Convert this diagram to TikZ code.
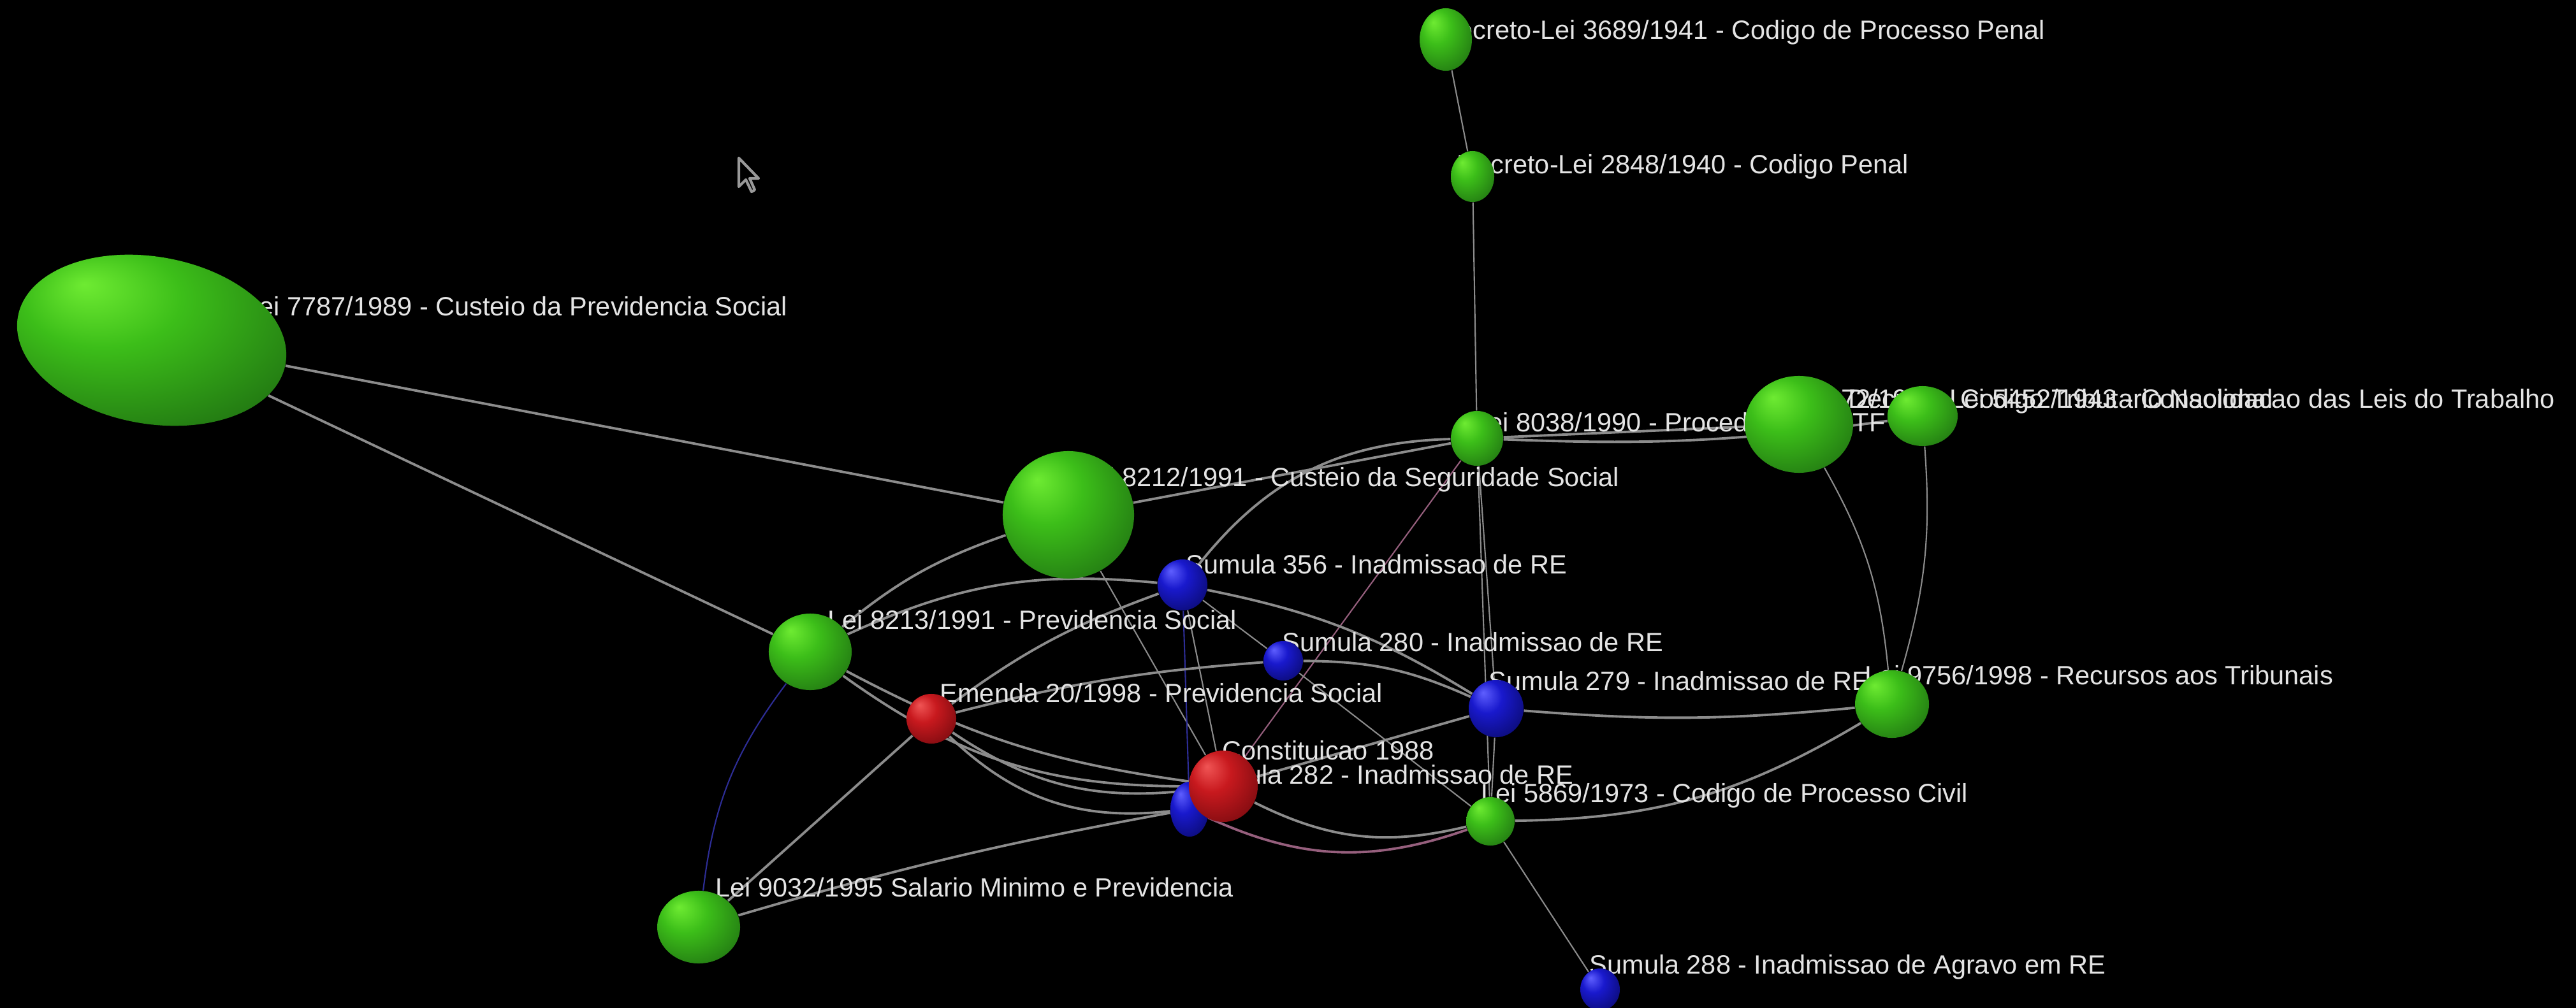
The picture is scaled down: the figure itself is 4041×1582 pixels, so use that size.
\documentclass[tikz,border=0pt]{standalone}
\usepackage{fontspec}
\setmainfont{Liberation Sans}
\usetikzlibrary{shapes.geometric}
\pgfdeclarelayer{edges}
\pgfdeclarelayer{balls}
\pgfsetlayers{edges,main,balls}
\definecolor{gtop}{RGB}{110,235,50}
\definecolor{gmid}{RGB}{60,190,25}
\definecolor{gdark}{RGB}{32,115,18}
\definecolor{btop}{RGB}{95,95,255}
\definecolor{bmid}{RGB}{25,25,205}
\definecolor{bdark}{RGB}{10,10,110}
\definecolor{rtop}{RGB}{240,85,85}
\definecolor{rmid}{RGB}{200,25,30}
\definecolor{rdark}{RGB}{120,10,15}
\definecolor{edgegray}{RGB}{140,140,140}
\definecolor{edgeblue}{RGB}{45,45,150}
\definecolor{edgepink}{RGB}{150,95,125}
\definecolor{lblwhite}{RGB}{228,228,228}
\pgfdeclareradialshading{greenball}{\pgfpoint{-12bp}{14bp}}{color(0bp)=(gtop); color(14bp)=(gmid); color(36bp)=(gdark); color(50bp)=(gdark)}
\pgfdeclareradialshading{blueball}{\pgfpoint{-12bp}{14bp}}{color(0bp)=(btop); color(14bp)=(bmid); color(36bp)=(bdark); color(50bp)=(bdark)}
\pgfdeclareradialshading{redball}{\pgfpoint{-12bp}{14bp}}{color(0bp)=(rtop); color(14bp)=(rmid); color(36bp)=(rdark); color(50bp)=(rdark)}
\newcommand\lblfont{\fontsize{11.8}{14}\selectfont}
\begin{document}
\begin{tikzpicture}[x=0.01cm,y=-0.01cm,
 gsph/.style 2 args={ellipse,inner sep=0pt,shading=greenball,minimum width=#1cm,minimum height=#2cm},
 bsph/.style 2 args={ellipse,inner sep=0pt,shading=blueball,minimum width=#1cm,minimum height=#2cm},
 rsph/.style 2 args={ellipse,inner sep=0pt,shading=redball,minimum width=#1cm,minimum height=#2cm},
 lbl/.style={anchor=base west,inner sep=0pt,text=lblwhite,font=\lblfont},
 edge/.style={draw=edgegray,line width=1.1pt},
 thinedge/.style={draw=edgegray,line width=0.6pt}]
\useasboundingbox (0,0) rectangle (4041,1582);

\begin{pgfonlayer}{balls}
\node[gsph={0.82}{0.98}] (dl3689) at (2268,62) {};
\node[gsph={0.68}{0.80}] (dl2848) at (2310,277) {};
\node[gsph={4.26}{2.62},rotate=-10] (l7787) at (238,534) {};
\node[gsph={2.06}{2.00}] (l8212) at (1676,808) {};
\node[gsph={0.82}{0.86}] (l8038) at (2317,688) {};
\node[gsph={1.70}{1.52}] (l5172) at (2822,666) {};
\node[gsph={1.10}{0.94}] (dl5452) at (3016,653) {};
\node[bsph={0.78}{0.80}] (s356) at (1855,918) {};
\node[gsph={1.30}{1.20}] (l8213) at (1271,1023) {};
\node[bsph={0.62}{0.62}] (s280) at (2013,1037) {};
\node[bsph={0.86}{0.90}] (s279) at (2347,1112) {};
\node[gsph={1.16}{1.06}] (l9756) at (2968,1105) {};
\node[rsph={0.78}{0.78}] (em20) at (1461,1128) {};
\node[bsph={0.60}{0.86}] (s282) at (1866,1270) {};
\node[rsph={1.08}{1.12}] (cf88) at (1919,1234) {};
\node[gsph={0.76}{0.76}] (l5869) at (2338,1289) {};
\node[gsph={1.30}{1.14}] (l9032) at (1096,1455) {};
\node[bsph={0.62}{0.66}] (s288) at (2510,1553) {};
\end{pgfonlayer}

\node[lbl] (t3689) at (2257,62) {Decreto-Lei 3689/1941 - Codigo de Processo Penal};
\node[lbl] (t2848) at (2285,273) {Decreto-Lei 2848/1940 - Codigo Penal};
\node[lbl] (t7787) at (383,495) {Lei 7787/1989 - Custeio da Previdencia Social};
\node[lbl] (t8212) at (1693,763) {Lei 8212/1991 - Custeio da Seguridade Social};
\node[lbl] (t8038) at (2311,677) {Lei 8038/1990 - Procedimento STF};
\node[lbl] (t5172) at (2775,640) {Lei 5172/1966 - Codigo Tributario Nacional};
\node[lbl] (t5452) at (2899,640) {Decreto-Lei 5452/1943 - Consolidacao das Leis do Trabalho};
\node[lbl] (t356) at (1860,900) {Sumula 356 - Inadmissao de RE};
\node[lbl] (t8213) at (1298,987) {Lei 8213/1991 - Previdencia Social};
\node[lbl] (t280) at (2011,1022) {Sumula 280 - Inadmissao de RE};
\node[lbl] (t279) at (2335,1083) {Sumula 279 - Inadmissao de RE};
\node[lbl] (t9756) at (2925,1074) {Lei 9756/1998 - Recursos aos Tribunais};
\node[lbl] (t20) at (1474,1102) {Emenda 20/1998 - Previdencia Social};
\node[lbl] (t88) at (1917,1192) {Constituicao 1988};
\node[lbl] (t282) at (1870,1230) {Sumula 282 - Inadmissao de RE};
\node[lbl] (t5869) at (2323,1259) {Lei 5869/1973 - Codigo de Processo Civil};
\node[lbl] (t9032) at (1122,1407) {Lei 9032/1995 Salario Minimo e Previdencia};
\node[lbl] (t288) at (2493,1528) {Sumula 288 - Inadmissao de Agravo em RE};

\draw[draw=gray!80,line width=1.2pt,line join=round] (1159,248) -- (1159,293) -- (1170,282) -- (1179,301) -- (1184,298) -- (1176,280) -- (1190,280) -- cycle;

\begin{pgfonlayer}{edges}
\fill[black] (0,0) rectangle (4041,1582);
\draw[thinedge] (dl3689) -- (dl2848);
\draw[thinedge] (dl2848) -- (l8038);
\draw[edge] (l7787) -- (l8212);
\draw[edge] (l7787) -- (l8213);
\draw[edge] (l8212) -- (l8038);
\draw[edge] (l8213) to[bend left=10] (l8212);
\draw[edge] (l8213) to[bend left=15] (s356);
\draw[edge] (em20) to[bend left=8] (s356);
\draw[edge] (s356) to[bend left=25] (l8038);
\draw[thinedge] (l8212) -- (cf88);
\draw[thinedge] (s356) -- (cf88);
\draw[thinedge,draw=edgeblue] (s356) -- (s282);
\draw[thinedge,draw=edgepink] (l8038) -- (cf88);
\draw[thinedge] (l8038) -- (s279);
\draw[thinedge] (l8038) -- (l5869);
\draw[edge] (l8038) -- (l5172);
\draw[edge] (l8038) to[bend right=5] (dl5452);
\draw[thinedge] (s356) -- (s280);
\draw[edge] (s356) to[bend left=10] (s279);
\draw[edge] (s280) to[bend left=12] (s279);
\draw[edge] (em20) to[bend left=5] (s280);
\draw[edge] (l8213) to[bend right=10] (cf88);
\draw[edge] (l8213) to[bend right=18] (cf88);
\draw[edge] (em20) to[bend right=20] (cf88);
\draw[edge] (em20) to[bend right=25] (s282);
\draw[edge] (cf88) -- (s279);
\draw[edge] (cf88) to[bend right=20] (l5869);
\draw[edge,draw=edgepink] (s282) to[bend right=22] (l5869);
\draw[edge] (em20) -- (l9032);
\draw[thinedge,draw=edgeblue] (l8213) to[bend right=15] (l9032);
\draw[edge] (s282) to[bend right=3] (l9032);
\draw[edge] (s279) to[bend right=5] (l9756);
\draw[edge] (l5869) to[bend right=15] (l9756);
\draw[thinedge] (l5869) -- (s288);
\draw[thinedge] (s279) -- (l5869);
\draw[thinedge] (s280) -- (l5869);
\draw[thinedge] (l5172) to[bend left=12] (l9756);
\draw[thinedge] (dl5452) to[bend left=10] (l9756);
\end{pgfonlayer}
\end{tikzpicture}
\end{document}
